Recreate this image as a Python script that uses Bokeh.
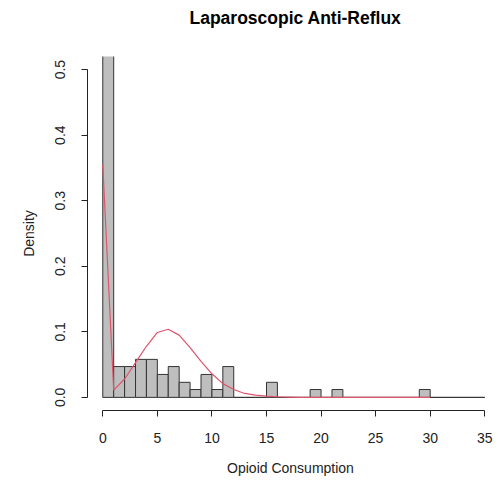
from bokeh.plotting import figure
from bokeh.models import Range1d, FixedTicker, PrintfTickFormatter, Title
from bokeh.embed import file_html
from bokeh.resources import INLINE

# Histogram bins (width 1) and their densities
bin_left = list(range(0, 35))
bin_right = list(range(1, 36))
density = [0.523, 0.047, 0.047, 0.058, 0.058, 0.035, 0.047, 0.023, 0.012, 0.035,
           0.012, 0.047, 0.0, 0.0, 0.0, 0.023, 0.0, 0.0, 0.0, 0.012,
           0.0, 0.012, 0.0, 0.0, 0.0, 0.0, 0.0, 0.0, 0.0, 0.012,
           0.0, 0.0, 0.0, 0.0, 0.0]

# Fitted density curve (red)
curve_x = list(range(0, 31))
curve_y = [0.355, 0.011, 0.028, 0.053, 0.078, 0.099, 0.104, 0.095, 0.076, 0.055,
           0.036, 0.021, 0.012, 0.006, 0.0035, 0.002, 0.001, 0.0005, 0.0, 0.0,
           0.0, 0.0, 0.0, 0.0, 0.0, 0.0, 0.0, 0.0, 0.0, 0.0, 0.0]

x_ticks = [0, 5, 10, 15, 20, 25, 30, 35]
y_ticks = [0.0, 0.1, 0.2, 0.3, 0.4, 0.5]

TITLE = "Laparoscopic Anti-Reflux"
FONT = "Liberation Sans"

W, H = 493, 482
FRAME_L, FRAME_T, FRAME_B = 87, 49, 410
PX_PER_UNIT = 10.914
p = figure(width=W, height=H, output_backend="svg", toolbar_location=None,
           x_range=Range1d(-1.4, -1.4 + (W - FRAME_L) / PX_PER_UNIT),
           y_range=Range1d(-0.02, 0.52),
           min_border_left=FRAME_L, min_border_right=0, min_border_top=FRAME_T,
           min_border_bottom=H - FRAME_B)
p.outline_line_color = None
p.grid.visible = False
p.background_fill_color = "white"
p.border_fill_color = "white"

p.quad(left=bin_left, right=bin_right, bottom=0, top=density,
       fill_color="#BEBEBE", line_color="#333333", line_width=1)
p.line(curve_x, curve_y, line_color="#DF536B", line_width=1.2)

# Title (a blank spacer title sits between it and the frame)
p.add_layout(Title(text=" ", text_font=FONT, text_font_size="11px"), "above")
p.title.text = TITLE
p.title.align = "left"
p.title.offset = 102
p.title.text_font = FONT
p.title.text_font_size = "17.5px"
p.title.text_font_style = "bold"
p.title.text_color = "black"

# x axis
xa = p.xaxis[0]
xa.ticker = FixedTicker(ticks=x_ticks)
xa.bounds = (0, 35)
xa.axis_label = "Opioid Consumption"
xa.major_tick_out = 6
xa.major_tick_in = 0
xa.minor_tick_out = 0
xa.minor_tick_in = 0
xa.major_label_standoff = 16
xa.axis_label_standoff = 14

# y axis
ya = p.yaxis[0]
ya.ticker = FixedTicker(ticks=y_ticks)
ya.formatter = PrintfTickFormatter(format="%.1f")
ya.bounds = (0, 0.5)
ya.axis_label = "Density"
ya.major_label_orientation = "vertical"
ya.major_tick_out = 6
ya.major_tick_in = 0
ya.minor_tick_out = 0
ya.minor_tick_in = 0
ya.major_label_standoff = 16
ya.axis_label_standoff = 16

for ax in (xa, ya):
    ax.axis_line_color = "#222222"
    ax.major_tick_line_color = "#222222"
    ax.major_label_text_font = FONT
    ax.major_label_text_font_size = "14px"
    ax.major_label_text_color = "#222222"
    ax.axis_label_text_font = FONT
    ax.axis_label_text_font_size = "14px"
    ax.axis_label_text_font_style = "normal"
    ax.axis_label_text_color = "#222222"

open("out.html", "w").write(file_html(p, INLINE))
